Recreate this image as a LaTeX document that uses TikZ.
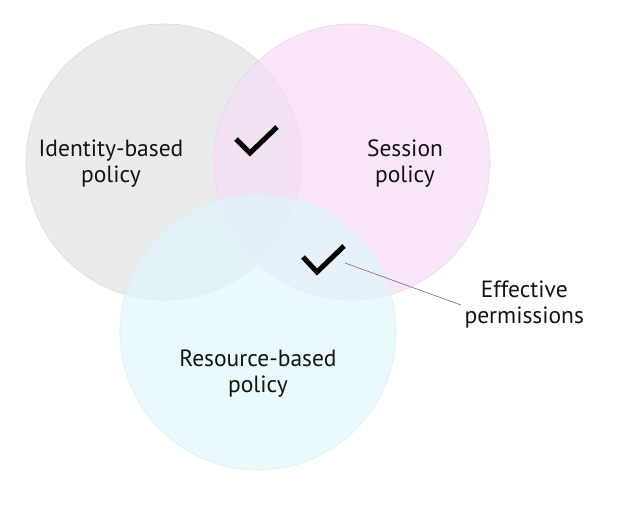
\documentclass[tikz,border=0pt]{standalone}
\usepackage{fontspec}
\setmainfont{PT Sans}
\usepackage{tikz}

\definecolor{idgray}{RGB}{226,227,230}
\definecolor{sespink}{RGB}{247,221,247}
\definecolor{rescyan}{RGB}{224,246,251}
\definecolor{txtdark}{RGB}{20,20,20}

\begin{document}
\begin{tikzpicture}[x=1pt,y=-1pt,
    policy/.style={circle, minimum size=276pt, inner sep=0pt, fill opacity=0.72, line width=0.6pt},
    lbl/.style={align=center, font=\fontsize{23.5}{26}\selectfont, text=txtdark},
    tick/.style={line width=5pt, line join=miter}]
        \useasboundingbox (0,0) rectangle (621,504);                               %
        \node [policy, fill=idgray,  draw=idgray!97!black]   (idp)  at (164,162) {};  %identity
        \node [policy, fill=sespink, draw=sespink!93!magenta] (sesp) at (352,162) {};  %session
        \node [policy, fill=rescyan, draw=rescyan!97!black]  (resp) at (258,332) {};  %resource
        \node [lbl] (idtxt)  at (111,164) {Identity-based\\policy};                %
        \node [lbl] (sestxt) at (405,164) {Session\\policy};                       %
        \node [lbl] (restxt) at (258,374) {Resource-based\\policy};                %
        \draw [tick] (236,139) -- (250,153) -- (277,127);                          %id+session
        \draw [tick] (303,257) -- (317,272) -- (344,246);                          %all three
        \coordinate (tip) at (345,263);                                            %
        \node [lbl, anchor=west] (eff) at (461,305) {Effective\\permissions};      %
        \draw [gray, line width=0.7pt] (tip) -- (eff.west);                        %
\end{tikzpicture}
\end{document}
